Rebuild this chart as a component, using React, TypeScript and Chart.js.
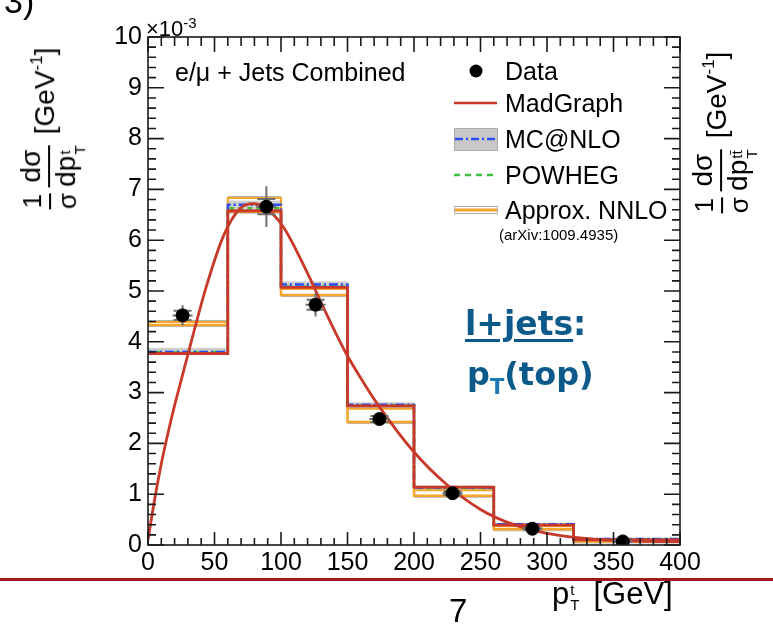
import React, { useEffect, useRef } from "react";
import { Chart, registerables } from "chart.js";
Chart.register(...registerables);

// ---- data (values in units of 1e-3 GeV^-1) ----
const binEdges = [0, 60, 100, 150, 200, 260, 320, 400];
const madgraph = [3.77, 6.58, 5.07, 2.74, 1.14, 0.39, 0.1];
const mcnlo = [3.8, 6.7, 5.13, 2.76, 1.13, 0.41, 0.12];
const mcnloLo = [3.74, 6.62, 5.07, 2.71, 1.09, 0.38, 0.1];
const mcnloHi = [3.88, 6.78, 5.19, 2.81, 1.17, 0.44, 0.14];
const powheg = [3.8, 6.63, 5.09, 2.75, 1.12, 0.4, 0.11];
const nnloLo = [4.33, 6.56, 4.92, 2.42, 0.97, 0.31, 0.07];
const nnloHi = [4.39, 6.83, 5.04, 2.68, 1.08, 0.37, 0.1];

const dataX = [26, 89, 126, 174, 229, 289, 357];
const dataY = [4.52, 6.66, 4.73, 2.48, 1.02, 0.32, 0.07];
const errTot = [0.2, 0.4, 0.23, 0.12, 0.08, 0.04, 0.02];
const errStat = [0.09, 0.15, 0.1, 0.06, 0.04, 0.02, 0.01];

const curveX = [0, 5, 10, 15, 20, 25, 32, 44, 57, 69, 79, 89, 102, 119, 134, 149, 162, 174, 200, 225, 250, 275, 300, 325, 350, 375, 400];
const curveY = [0.1, 0.9, 1.6, 2.2, 2.75, 3.25, 3.95, 5.1, 6.1, 6.62, 6.72, 6.62, 6.25, 5.4, 4.56, 3.77, 3.2, 2.72, 1.83, 1.18, 0.7, 0.4, 0.23, 0.14, 0.09, 0.07, 0.065];

const xTicksMax = 400;
const yTicksMax = 10;

const RED = "#c8392a";
const BLUE = "#2a4cf0";
const GREEN = "#3cc03c";
const ORANGE = "#f5a52a";
const FONT = "'Liberation Sans', Arial, Helvetica, sans-serif";

function stepPoints(vals: number[]) {
  const pts: { x: number; y: number }[] = [];
  for (let i = 0; i < vals.length; i++) {
    pts.push({ x: binEdges[i], y: vals[i] });
    pts.push({ x: binEdges[i + 1], y: vals[i] });
  }
  return pts;
}

const bandPlugin = {
  id: "bands",
  beforeDatasetsDraw(chart: any) {
    const { ctx } = chart;
    const xs = chart.scales.x;
    const ys = chart.scales.y;
    ctx.save();
    for (let i = 0; i < mcnloLo.length; i++) {
      const x0 = xs.getPixelForValue(binEdges[i]);
      const x1 = xs.getPixelForValue(binEdges[i + 1]);
      const yA = ys.getPixelForValue(mcnloHi[i]);
      const yB = ys.getPixelForValue(mcnloLo[i]);
      ctx.fillStyle = "rgba(196,196,196,0.85)";
      ctx.fillRect(x0, yA, x1 - x0, yB - yA);
    }
    for (let i = 0; i < nnloLo.length; i++) {
      const x0 = xs.getPixelForValue(binEdges[i]);
      const x1 = xs.getPixelForValue(binEdges[i + 1]);
      const yA = ys.getPixelForValue(nnloHi[i]);
      const yB = ys.getPixelForValue(nnloLo[i]);
      ctx.strokeStyle = "rgba(170,170,170,0.9)";
      ctx.lineWidth = 1;
      ctx.strokeRect(x0 + 0.5, yA - 1.5, x1 - x0 - 1, yB - yA + 3);
    }
    ctx.restore();
  },
  beforeDatasetDraw(chart: any, args: any) {
    if (args.index !== 0) return;
    const { ctx } = chart;
    const xs = chart.scales.x;
    const ys = chart.scales.y;
    ctx.save();
    ctx.strokeStyle = "#6e6e6e";
    ctx.lineWidth = 2;
    for (let i = 0; i < dataX.length; i++) {
      const px = xs.getPixelForValue(dataX[i]);
      const py = ys.getPixelForValue(dataY[i]);
      const t = ys.getPixelForValue(dataY[i] + errTot[i]);
      const b = ys.getPixelForValue(dataY[i] - errTot[i]);
      const st = ys.getPixelForValue(dataY[i] + errStat[i]);
      const sb = ys.getPixelForValue(dataY[i] - errStat[i]);
      ctx.beginPath();
      ctx.moveTo(px, t);
      ctx.lineTo(px, b);
      ctx.moveTo(px - 10, py);
      ctx.lineTo(px + 10, py);
      ctx.moveTo(px - 9, st);
      ctx.lineTo(px + 9, st);
      ctx.moveTo(px - 9, sb);
      ctx.lineTo(px + 9, sb);
      ctx.stroke();
    }
    ctx.restore();
  },
  afterDatasetsDraw(chart: any) {
    const { ctx, chartArea } = chart;
    const xs = chart.scales.x;
    const ys = chart.scales.y;
    const { left, right, top, bottom } = chartArea;
    ctx.save();
    ctx.strokeStyle = "#1a1a1a";
    ctx.lineWidth = 1.6;
    ctx.strokeRect(left, top, right - left, bottom - top);
    ctx.beginPath();
    for (let k = 0; k <= xTicksMax / 10; k++) {
      const v = k * 10;
      const px = xs.getPixelForValue(v);
      const len = v % 50 === 0 ? 13 : 7;
      ctx.moveTo(px, bottom);
      ctx.lineTo(px, bottom - len);
      ctx.moveTo(px, top);
      ctx.lineTo(px, top + len + 2);
    }
    for (let k = 0; k <= yTicksMax * 5; k++) {
      const v = k / 5;
      const py = ys.getPixelForValue(v);
      const len = k % 5 === 0 ? 16 : 8;
      ctx.moveTo(left, py);
      ctx.lineTo(left + len, py);
      ctx.moveTo(right, py);
      ctx.lineTo(right - len, py);
    }
    ctx.stroke();
    ctx.restore();
  },
  afterDraw(chart: any) {
    const { ctx } = chart;
    ctx.save();
    // Data marker
    ctx.fillStyle = "#000";
    ctx.beginPath();
    ctx.arc(476, 71, 6.5, 0, Math.PI * 2);
    ctx.fill();
    // MadGraph
    ctx.strokeStyle = RED;
    ctx.lineWidth = 2.5;
    ctx.beginPath();
    ctx.moveTo(454, 103);
    ctx.lineTo(497, 103);
    ctx.stroke();
    // MC@NLO
    ctx.fillStyle = "#c8c8c8";
    ctx.fillRect(454, 128, 43, 22);
    ctx.strokeStyle = "#a8a8a8";
    ctx.lineWidth = 1;
    ctx.strokeRect(454.5, 128.5, 43, 22);
    ctx.strokeStyle = BLUE;
    ctx.lineWidth = 2.5;
    ctx.setLineDash([8, 3, 2, 3]);
    ctx.beginPath();
    ctx.moveTo(455, 139);
    ctx.lineTo(497, 139);
    ctx.stroke();
    // POWHEG
    ctx.strokeStyle = GREEN;
    ctx.setLineDash([6, 5]);
    ctx.beginPath();
    ctx.moveTo(454, 175);
    ctx.lineTo(497, 175);
    ctx.stroke();
    // NNLO
    ctx.setLineDash([]);
    ctx.strokeStyle = "#b0b0b0";
    ctx.lineWidth = 1;
    ctx.strokeRect(454.5, 206.5, 43, 7);
    ctx.strokeStyle = ORANGE;
    ctx.lineWidth = 3;
    ctx.beginPath();
    ctx.moveTo(455, 210);
    ctx.lineTo(497, 210);
    ctx.stroke();
    ctx.restore();
  },
};

const Frac = ({ num, den }: { num: any; den: any }) => (
  <span style={{ display: "inline-flex", flexDirection: "column", alignItems: "center", margin: "0 3px" }}>
    <span style={{ lineHeight: 1, padding: "0 1px" }}>{num}</span>
    <span style={{ alignSelf: "stretch", borderTop: "2px solid #000", margin: "3px 0 2px" }} />
    <span style={{ lineHeight: 1 }}>{den}</span>
  </span>
);

const SupSub = ({ sup, sub }: { sup: string; sub: string }) => (
  <span style={{ display: "inline-flex", flexDirection: "column", fontSize: "0.55em", lineHeight: 1, position: "relative", top: "0.3em", marginLeft: 1 }}>
    <span>{sup}</span>
    <span>{sub}</span>
  </span>
);

const YLabel = ({ cx, cy, sup }: { cx: number; cy: number; sup: string }) => (
  <div
    style={{
      position: "absolute",
      left: cx,
      top: cy,
      transform: "translate(-50%,-50%) rotate(-90deg)",
      whiteSpace: "nowrap",
      fontFamily: FONT,
      fontSize: 28,
      display: "flex",
      alignItems: "center",
      color: "#000",
    }}
  >
    <Frac num={<span style={{ fontSize: 26 }}>1</span>} den={<span style={{ fontSize: 26 }}>σ</span>} />
    <Frac
      num={<span>dσ</span>}
      den={
        <span style={{ display: "inline-flex", alignItems: "flex-start" }}>
          dp
          <SupSub sup={sup} sub="T" />
        </span>
      }
    />
    <span style={{ marginLeft: 8, fontSize: 28, position: "relative", top: -6 }}>
      [GeV<sup style={{ fontSize: 17, verticalAlign: "0.7em" }}>-1</sup>]
    </span>
  </div>
);

const abs = (left: number, top: number, extra: any = {}) => ({
  position: "absolute" as const,
  left,
  top,
  whiteSpace: "nowrap" as const,
  fontFamily: FONT,
  color: "#000",
  ...extra,
});

export default function App() {
  const ref = useRef<HTMLCanvasElement | null>(null);
  useEffect(() => {
    if (!ref.current) return;
    Chart.defaults.font.family = FONT;
    const chart = new Chart(ref.current, {
      type: "line",
      data: {
        datasets: [
          {
            type: "scatter",
            data: dataX.map((x, i) => ({ x, y: dataY[i] })),
            backgroundColor: "#000",
            borderColor: "#000",
            pointRadius: 6.5,
            showLine: false,
          } as any,
          {
            data: curveX.map((x, i) => ({ x, y: curveY[i] })),
            borderColor: RED,
            borderWidth: 2.8,
            pointRadius: 0,
            tension: 0.4,
            cubicInterpolationMode: "monotone",
          },
          { data: stepPoints(madgraph), borderColor: RED, borderWidth: 2.8, pointRadius: 0 },
          { data: stepPoints(mcnlo), borderColor: BLUE, borderWidth: 2.5, pointRadius: 0, borderDash: [9, 3, 2, 3] },
          { data: stepPoints(powheg), borderColor: GREEN, borderWidth: 2.5, pointRadius: 0, borderDash: [5, 4] },
          { data: stepPoints(nnloLo), borderColor: ORANGE, borderWidth: 2.5, pointRadius: 0 },
          { data: stepPoints(nnloHi), borderColor: ORANGE, borderWidth: 2, pointRadius: 0 },
        ],
      },
      options: {
        responsive: false,
        maintainAspectRatio: false,
        animation: false,
        events: [],
        layout: { padding: { left: 0, right: 93, top: 37, bottom: 49 } },
        plugins: { legend: { display: false }, tooltip: { enabled: false } },
        scales: {
          x: {
            type: "linear",
            min: 0,
            max: xTicksMax,
            grid: { display: false, drawTicks: false },
            border: { display: false },
            ticks: { stepSize: 50, autoSkip: false, maxRotation: 0, color: "#000", font: { size: 25 }, padding: 3 },
            afterFit: (s: any) => {
              s.height = 30;
            },
          },
          y: {
            type: "linear",
            min: 0,
            max: yTicksMax,
            grid: { display: false, drawTicks: false },
            border: { display: false },
            ticks: { stepSize: 1, autoSkip: false, color: "#000", font: { size: 25 }, padding: 6 },
            afterFit: (s: any) => {
              s.width = 148;
            },
          },
        },
      },
      plugins: [bandPlugin],
    } as any);
    return () => chart.destroy();
  }, []);

  return (
    <div style={{ position: "absolute", left: 0, top: 0, width: 773, height: 624, overflow: "hidden", background: "#fff" }}>
      <canvas ref={ref} width={773} height={624} style={{ display: "block", width: 773, height: 624 }} />
      <div style={abs(4, -16, { fontSize: 34, lineHeight: "34px" })}>3)</div>
      <div style={abs(146, 11, { fontSize: 22, lineHeight: "24px" })}>
        ×10<sup style={{ fontSize: 15, verticalAlign: "0.55em" }}>-3</sup>
      </div>
      <div style={abs(175, 57, { fontSize: 25, lineHeight: "30px" })}>e/μ + Jets Combined</div>
      <div style={abs(505, 56, { fontSize: 25, lineHeight: "30px" })}>Data</div>
      <div style={abs(505, 88, { fontSize: 25, lineHeight: "30px" })}>MadGraph</div>
      <div style={abs(505, 124, { fontSize: 25, lineHeight: "30px" })}>MC@NLO</div>
      <div style={abs(505, 160, { fontSize: 25, lineHeight: "30px" })}>POWHEG</div>
      <div style={abs(505, 195, { fontSize: 25, lineHeight: "30px" })}>Approx. NNLO</div>
      <div style={abs(499, 226, { fontSize: 15, lineHeight: "18px" })}>(arXiv:1009.4935)</div>
      <YLabel cx={50} cy={130} sup="t" />
      <YLabel cx={722} cy={134} sup={"tt\u0304"} />
      <div style={abs(465, 307, { fontSize: 33, lineHeight: "33px", fontFamily: "'DejaVu Sans', sans-serif", fontWeight: "bold", color: "#0b5a8a" })}>
        <span style={{ textDecoration: "underline", textDecorationThickness: "3px", textUnderlineOffset: "4px" }}>l+jets</span>:
      </div>
      <div style={abs(467, 358, { fontSize: 32, lineHeight: "32px", fontFamily: "'DejaVu Sans', sans-serif", fontWeight: "bold", color: "#0b5a8a" })}>
        p<span style={{ fontSize: 21, position: "relative", top: 9, color: "#1c78b4" }}>T</span>(top)
      </div>
      <div style={{ position: "absolute", left: 0, top: 578, width: 773, height: 3, background: "#9e1b1b" }} />
      <div style={abs(449, 594, { fontSize: 33, lineHeight: "33px" })}>7</div>
      <div style={abs(552, 578, { fontSize: 31, lineHeight: "31px" })}>
        p
        <span style={{ display: "inline-flex", flexDirection: "column", fontSize: 15, lineHeight: 1, position: "relative", top: -9, marginLeft: 1 }}>
          <span>t</span>
          <span>T</span>
        </span>
        <span style={{ marginLeft: 14 }}>[GeV]</span>
      </div>
    </div>
  );
}
